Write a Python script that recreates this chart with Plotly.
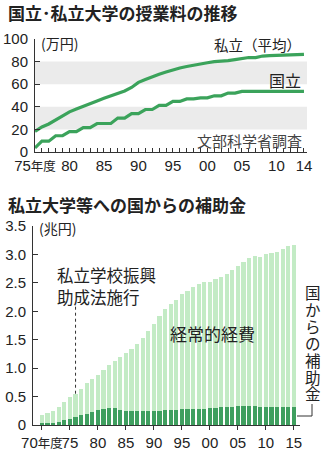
import plotly.graph_objects as go

W, H = 329, 450

# ---- Data: tuition (万円) ----
years_fee = list(range(1975, 2015))
private_fee = [18.3, 22.2, 24.8, 28.6, 32.5, 35.5, 38.0, 40.6, 43.3, 45.2,
               47.5, 49.7, 51.7, 54.0, 57.1, 61.6, 64.2, 66.9, 68.9, 70.8,
               72.8, 74.4, 75.7, 77.0, 78.3, 79.0, 79.9, 80.0, 80.8, 81.8,
               83.0, 83.6, 83.5, 84.9, 85.2, 85.8, 85.7, 86.0, 86.1, 86.4]
national_fee = [3.6, 9.6, 9.6, 14.4, 14.4, 18.0, 18.0, 21.6, 21.6, 25.2,
                25.2, 25.2, 30.0, 30.0, 34.0, 34.0, 37.6, 37.6, 41.2, 41.2,
                44.8, 44.8, 47.0, 47.0, 47.9, 47.9, 49.7, 49.7, 52.1, 52.1,
                53.6, 53.6, 53.6, 53.6, 53.6, 53.6, 53.6, 53.6, 53.6, 53.6]
NENDO = "<span style='font-size:12.5px'>年度</span>"
fee_tickvals = years_fee
fee_ticktext = [("75" + NENDO) if y == 1975 else (f"{y % 100:02d}" if (y % 5 == 0 or y == 2014) else "") for y in years_fee]
fee_ytick = [0, 20, 40, 60, 80, 100]

# ---- Data: subsidy (兆円) ----
years_sub = list(range(1970, 2016))
subsidy_total = [0.18, 0.21, 0.25, 0.31, 0.41, 0.49, 0.55, 0.64, 0.73, 0.81,
                 0.88, 0.97, 1.05, 1.12, 1.19, 1.26, 1.34, 1.43, 1.53, 1.65,
                 1.77, 1.92, 2.04, 2.12, 2.19, 2.31, 2.36, 2.42, 2.48, 2.51,
                 2.51, 2.57, 2.60, 2.66, 2.73, 2.80, 2.87, 2.93, 2.97, 2.95,
                 3.00, 3.03, 3.04, 3.09, 3.14, 3.17]
subsidy_dark = [0.02, 0.03, 0.04, 0.06, 0.08, 0.11, 0.14, 0.17, 0.20, 0.23,
                0.27, 0.29, 0.30, 0.30, 0.26, 0.25, 0.25, 0.25, 0.25, 0.25,
                0.25, 0.25, 0.26, 0.26, 0.27, 0.28, 0.28, 0.29, 0.29, 0.29,
                0.30, 0.30, 0.31, 0.32, 0.32, 0.33, 0.33, 0.33, 0.33, 0.32,
                0.32, 0.32, 0.32, 0.32, 0.32, 0.31]
sub_tickvals = list(range(1970, 2016, 5))
sub_ticktext = ["70" + NENDO, "75", "80", "85", "90", "95", "00", "05", "10", "15"]
sub_ytickvals = [0, 0.5, 1.0, 1.5, 2.0, 2.5, 3.0, 3.5]
sub_yticktext = ["0", "0.5", "1.0", "1.5", "2.0", "2.5", "3.0", "3.5"]

LINE_GREEN = "#3ba35b"
LIGHT = "#c3ebc5"
DARK = "#3f9f5f"
TXT = "#222222"
FONT = "Liberation Sans Narrow, Liberation Sans, Noto Sans CJK JP, sans-serif"
JFONT = "Noto Sans CJK JP, sans-serif"

def px(x):
    return x / W

def py(y):
    return 1 - y / H

fig = go.Figure()
fig.add_trace(go.Scatter(x=years_fee, y=private_fee, mode="lines",
                         line=dict(color=LINE_GREEN, width=3.2), xaxis="x", yaxis="y",
                         showlegend=False, hoverinfo="skip"))
fig.add_trace(go.Scatter(x=years_fee, y=national_fee, mode="lines",
                         line=dict(color=LINE_GREEN, width=3.2), xaxis="x", yaxis="y",
                         showlegend=False, hoverinfo="skip"))
fig.add_trace(go.Bar(x=years_sub, y=subsidy_total, marker=dict(color=LIGHT, line=dict(width=0)),
                     width=0.74, xaxis="x2", yaxis="y2", showlegend=False, hoverinfo="skip"))
fig.add_trace(go.Bar(x=years_sub, y=subsidy_dark, marker=dict(color=DARK, line=dict(width=0)),
                     width=0.74, xaxis="x2", yaxis="y2", showlegend=False, hoverinfo="skip"))

axis_common = dict(showgrid=False, zeroline=False, showline=True, linecolor="#333",
                   linewidth=1, tickcolor="#333", automargin=False,
                   tickfont=dict(family=FONT, size=15, color=TXT))

fig.update_layout(
    width=W, height=H, autosize=False,
    margin=dict(l=0, r=0, t=0, b=0, autoexpand=False),
    paper_bgcolor="white", plot_bgcolor="white",
    barmode="overlay", bargap=0,
    xaxis=dict(domain=[px(35), px(307)], range=[1975, 2014.44], anchor="y",
               tickmode="array", tickvals=fee_tickvals, ticktext=fee_ticktext,
               ticks="inside", ticklen=4, tickangle=0, **axis_common),
    yaxis=dict(domain=[py(152), py(39)], range=[0, 100], anchor="x",
               tickmode="array", tickvals=fee_ytick, ticks="inside", ticklen=5,
               ticklabelstandoff=3, **axis_common),
    xaxis2=dict(domain=[px(33), px(300)], range=[1968.4, 2016.1], anchor="y2",
                tickmode="array", tickvals=sub_tickvals, ticktext=sub_ticktext,
                ticks="outside", ticklen=4, tickangle=0, **axis_common),
    yaxis2=dict(domain=[py(425), py(226)], range=[0, 3.5], anchor="x2",
                tickmode="array", tickvals=sub_ytickvals, ticktext=sub_yticktext,
                ticks="inside", ticklen=5, ticklabelstandoff=3, **axis_common),
)

shapes = [
    dict(type="rect", xref="x domain", yref="y", x0=0, x1=1, y0=20, y1=40,
         fillcolor="#ebebeb", line=dict(width=0), layer="below"),
    dict(type="rect", xref="x domain", yref="y", x0=0, x1=1, y0=60, y1=80,
         fillcolor="#ebebeb", line=dict(width=0), layer="below"),
    dict(type="line", xref="x2", yref="y2", x0=1976, x1=1976, y0=0.55, y1=2.12,
         line=dict(color="#333", width=1, dash="dot")),
    dict(type="line", xref="paper", yref="paper", x0=px(297), x1=px(312), y0=py(416), y1=py(416),
         line=dict(color="#333", width=1)),
    dict(type="line", xref="paper", yref="paper", x0=px(312), x1=px(312), y0=py(416), y1=py(404),
         line=dict(color="#333", width=1)),
]
fig.update_layout(shapes=shapes)

def ann(text, x, y, size, xanchor="left", color=TXT, bold=False, yanchor="middle"):
    return dict(text=f"<b>{text}</b>" if bold else text, x=px(x), y=py(y), xref="paper", yref="paper",
                xanchor=xanchor, yanchor=yanchor, showarrow=False,
                font=dict(family=JFONT, size=size, color=color))

vertical_label = "<br>".join(f"<span style='font-size:15.5px'>{ch}</span>" for ch in "国からの補助金")

annotations = [
    ann("国立･私立大学の授業料の推移", 6, 13, 17, bold=True),
    ann("私立大学等への国からの補助金", 6, 204, 17, bold=True),
    ann("(万円)", 39, 43, 14),
    ann("私立（平均）", 303, 45, 14.5, xanchor="right"),
    ann("国立", 303, 80, 16, xanchor="right"),
    ann("文部科学省調査", 304, 140, 15, xanchor="right", color="#444"),
    ann("(兆円)", 37, 228, 14),
    ann("私立学校振興", 55, 275, 16.5),
    ann("助成法施行", 55, 297, 16.5),
    ann("経常的経費", 212, 333, 17, xanchor="center"),
    ann(vertical_label, 312.5, 342, 13, xanchor="center"),
]
fig.update_layout(annotations=annotations)

fig.write_html("out.html")
